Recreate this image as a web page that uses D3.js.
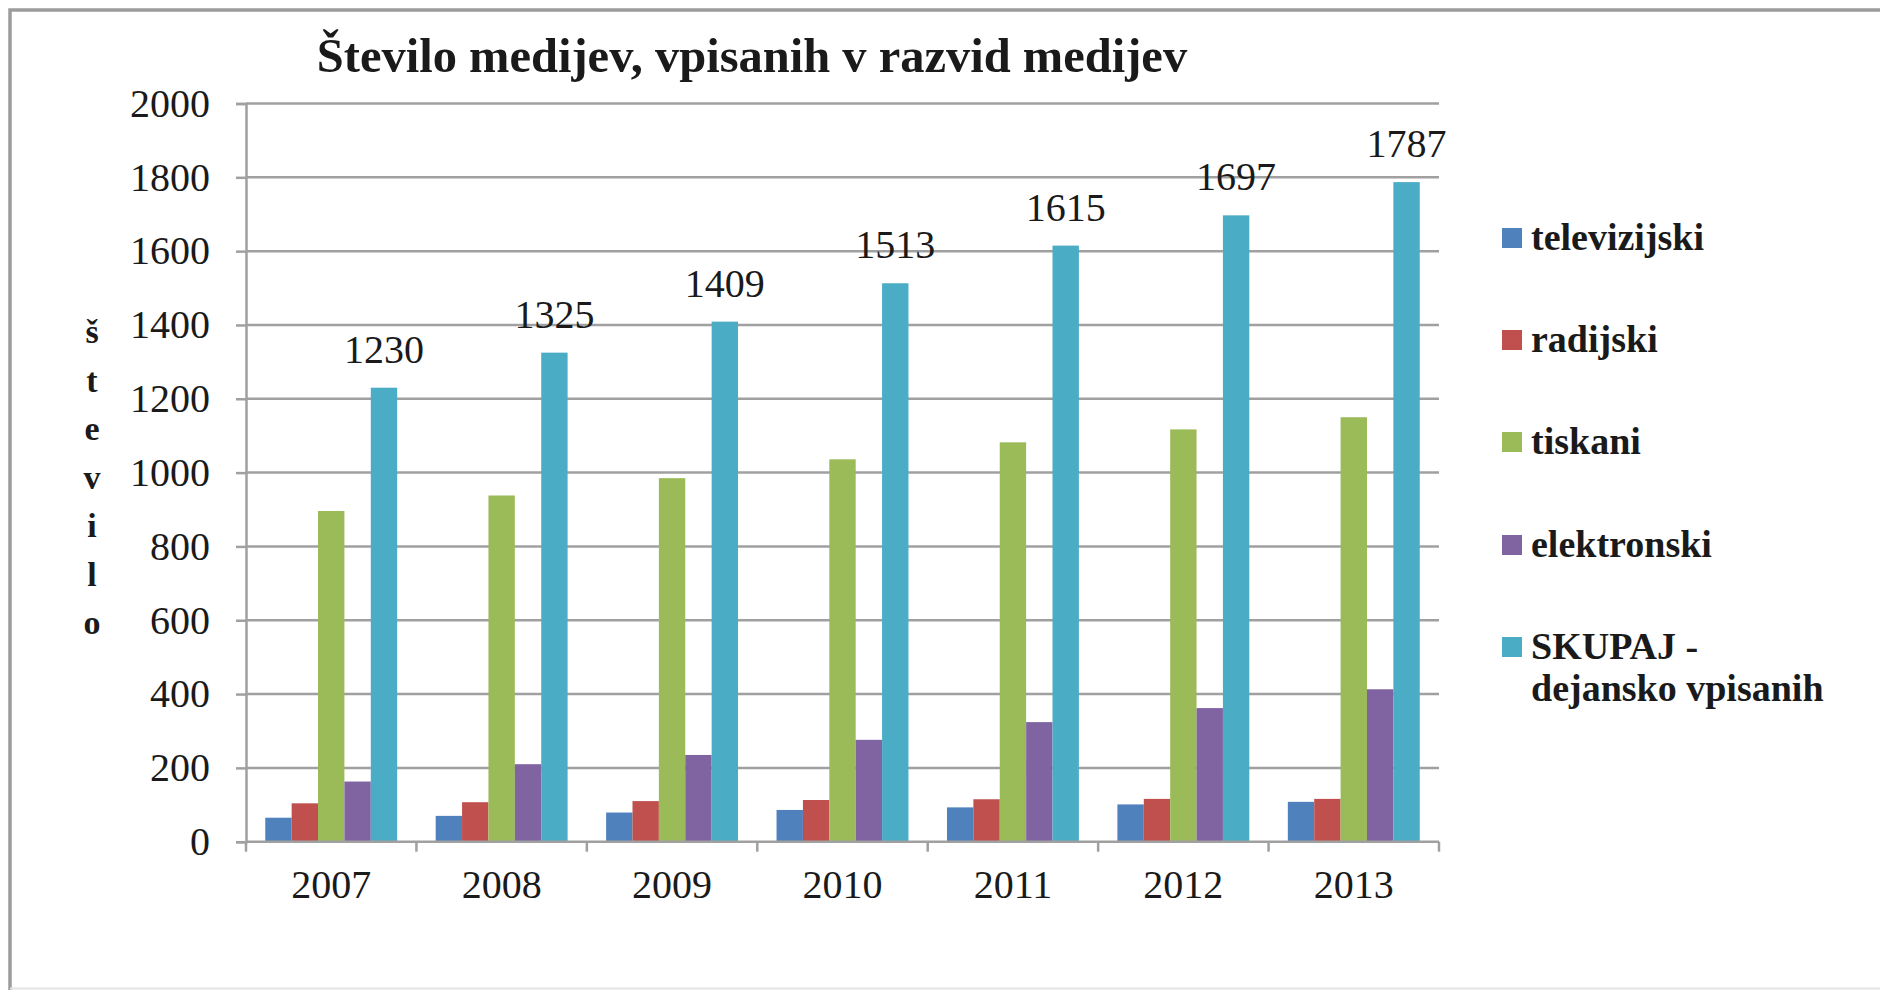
<!DOCTYPE html>
<html>
<head>
<meta charset="utf-8">
<script src="https://cdn.jsdelivr.net/npm/d3@7"></script>
<style>
  html, body { margin: 0; padding: 0; background: #fff; }
  svg text { font-family: "Liberation Serif", "Times New Roman", serif; fill: #1a1a1a; }
</style>
</head>
<body>
<svg id="chart" width="1880" height="990"></svg>
<script>
// data
const years = ['2007', '2008', '2009', '2010', '2011', '2012', '2013'];
const seriesNames = ['televizijski', 'radijski', 'tiskani', 'elektronski', 'SKUPAJ - dejansko vpisanih'];
const televizijski = [65, 70, 79, 86, 93, 101, 108];
const radijski = [104, 107, 110, 113, 115, 116, 116];
const tiskani = [896, 938, 985, 1036, 1082, 1117, 1150];
const elektronski = [163, 210, 235, 276, 324, 362, 413];
const skupaj = [1230, 1325, 1409, 1513, 1615, 1697, 1787];
const yTicks = [0, 200, 400, 600, 800, 1000, 1200, 1400, 1600, 1800, 2000];
const colores = ['#4F81BD', '#C0504D', '#9BBB59', '#8064A2', '#4BACC6'];

const series = [televizijski, radijski, tiskani, elektronski, skupaj];
const rows = years.map((y, i) => ({
  year: y,
  values: series.map((s, k) => ({ key: seriesNames[k], value: s[i] }))
}));

const svg = d3.select('#chart');
const plot = { left: 246, right: 1439, top: 103.5, bottom: 841.7 };

// frame
svg.append('path')
  .attr('d', 'M10,990 L10,10 L1880,10')
  .attr('fill', 'none')
  .attr('stroke', '#9c9c9c')
  .attr('stroke-width', 3.5);
svg.append('line')
  .attr('x1', 10).attr('x2', 1880).attr('y1', 988.5).attr('y2', 988.5)
  .attr('stroke', '#e4e4e4').attr('stroke-width', 2);

const x0 = d3.scaleBand()
  .domain(years)
  .range([plot.left, plot.right]);

const x1 = d3.scaleBand()
  .domain(seriesNames)
  .range([0, x0.bandwidth()])
  .paddingOuter(0.73);

const y = d3.scaleLinear()
  .domain([0, 2000])
  .range([plot.bottom, plot.top]);

const color = d3.scaleOrdinal(seriesNames, colores);

// gridlines + y axis
const yAxis = svg.append('g')
  .attr('transform', `translate(${plot.left},0)`)
  .call(d3.axisLeft(y).tickValues(yTicks).tickFormat(d3.format('d')).tickSize(10).tickPadding(26));
yAxis.select('.domain').attr('stroke', '#a0a0a0').attr('stroke-width', 2.5);
yAxis.selectAll('.tick line').attr('stroke', '#a0a0a0').attr('stroke-width', 2.5);
yAxis.selectAll('.tick text')
  .style('font-size', '40px')
  .attr('fill', '#1a1a1a');

svg.append('g')
  .selectAll('line')
  .data(yTicks.filter(d => d > 0))
  .join('line')
  .attr('x1', plot.left).attr('x2', plot.right)
  .attr('y1', d => y(d)).attr('y2', d => y(d))
  .attr('stroke', '#a0a0a0').attr('stroke-width', 2.5);

// bars
const group = svg.append('g')
  .selectAll('g')
  .data(rows)
  .join('g')
  .attr('transform', d => `translate(${x0(d.year)},0)`);

group.selectAll('rect')
  .data(d => d.values)
  .join('rect')
  .attr('x', d => x1(d.key))
  .attr('width', x1.bandwidth())
  .attr('y', d => y(d.value))
  .attr('height', d => y(0) - y(d.value))
  .attr('fill', d => color(d.key));

// value labels above SKUPAJ
group.append('text')
  .attr('x', x1(seriesNames[4]) + x1.bandwidth() / 2)
  .attr('y', d => y(d.values[4].value) - 25)
  .attr('text-anchor', 'middle')
  .style('font-size', '40px')
  .text(d => d.values[4].value);

// x axis
const xAxisG = svg.append('g')
  .attr('transform', `translate(0,${plot.bottom})`);
xAxisG.append('line')
  .attr('x1', plot.left).attr('x2', plot.right)
  .attr('stroke', '#a0a0a0').attr('stroke-width', 2.5);
const bounds = years.map(d => x0(d)).concat([plot.right]);
xAxisG.selectAll('line.tk')
  .data(bounds)
  .join('line')
  .attr('class', 'tk')
  .attr('x1', d => d).attr('x2', d => d)
  .attr('y1', 0).attr('y2', 10)
  .attr('stroke', '#a0a0a0').attr('stroke-width', 2.5);
xAxisG.selectAll('text')
  .data(years)
  .join('text')
  .attr('x', d => x0(d) + x0.bandwidth() / 2)
  .attr('y', 56)
  .attr('text-anchor', 'middle')
  .style('font-size', '40px')
  .text(d => d);

// title
svg.append('text')
  .attr('x', 752)
  .attr('y', 72)
  .attr('text-anchor', 'middle')
  .style('font-size', '48.5px')
  .style('font-weight', 'bold')
  .text('Število medijev, vpisanih v razvid medijev');

// y title, letters stacked
const yTitle = 'število'.split('');
svg.append('g')
  .selectAll('text')
  .data(yTitle)
  .join('text')
  .attr('x', 92)
  .attr('y', (d, i) => 343 + i * 48.5)
  .attr('text-anchor', 'middle')
  .style('font-size', '34px')
  .style('font-weight', 'bold')
  .text(d => d);

// legend
const legendY = [238, 340, 442, 545, 647];
const legend = svg.append('g')
  .selectAll('g')
  .data(seriesNames)
  .join('g')
  .attr('transform', (d, i) => `translate(1502,${legendY[i]})`);
legend.append('rect')
  .attr('x', 0).attr('y', -10)
  .attr('width', 20).attr('height', 20)
  .attr('fill', d => color(d));
legend.append('text')
  .attr('x', 29)
  .attr('y', 12)
  .style('font-size', '38px')
  .style('font-weight', 'bold')
  .each(function(d) {
    const parts = d === seriesNames[4] ? ['SKUPAJ -', 'dejansko vpisanih'] : [d];
    d3.select(this).selectAll('tspan')
      .data(parts)
      .join('tspan')
      .attr('x', 29)
      .attr('dy', (p, i) => i === 0 ? 0 : 42)
      .text(p => p);
  });
</script>
</body>
</html>
